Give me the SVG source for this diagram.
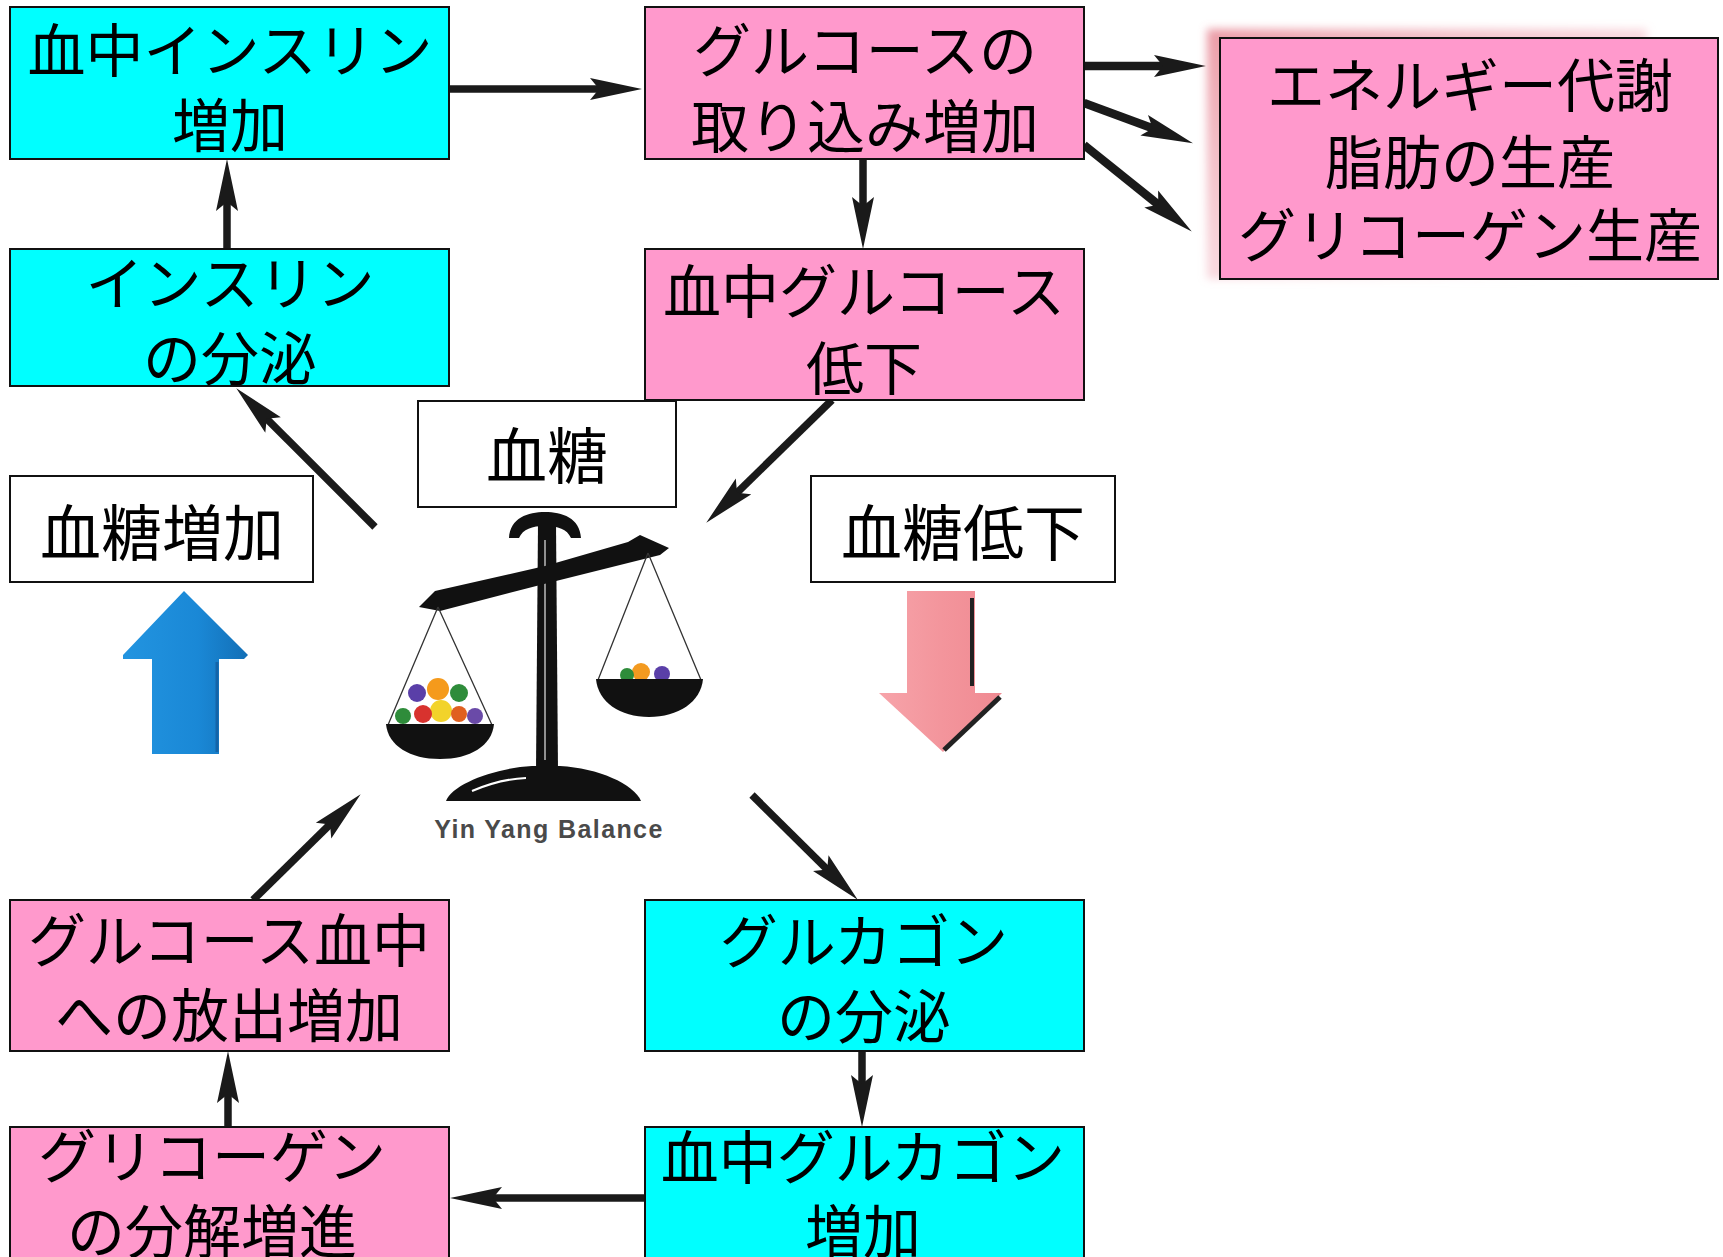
<svg xmlns="http://www.w3.org/2000/svg" width="1723" height="1257" viewBox="0 0 1723 1257">
  <style>
    .box { stroke: #111; stroke-width: 2; }
    .cyan { fill: #00ffff; }
    .pink { fill: #ff99cc; }
    .white { fill: #ffffff; }
    .t { font-family: "Noto Sans CJK JP", "Noto Sans CJK SC", sans-serif; font-size: 58px; text-anchor: middle; fill: #000; }
    .t60 { font-size: 61px; }
    .conn { stroke: #1a1a1a; stroke-width: 7.5; fill: none; marker-end: url(#ah); }
    .thick { stroke-width: 8.5; }
    .str { stroke: #333; stroke-width: 1.3; fill: none; }
  </style>
  <defs>
    <marker id="ah" viewBox="0 0 52 24" markerUnits="userSpaceOnUse" markerWidth="52" markerHeight="24" refX="11" refY="12" orient="auto">
      <path d="M0,1 L52,12 L0,23 L9,12 Z" fill="#1a1a1a"/>
    </marker>
    <filter id="soft" x="-10%" y="-10%" width="120%" height="120%">
      <feGaussianBlur stdDeviation="4"/>
    </filter>
    <linearGradient id="shade" x1="0" y1="0" x2="1" y2="1">
      <stop offset="0" stop-color="#e2707f" stop-opacity="0.7"/>
      <stop offset="0.6" stop-color="#f0a0b0" stop-opacity="0.3"/>
      <stop offset="1" stop-color="#ffffff" stop-opacity="0"/>
    </linearGradient>
    <linearGradient id="blueG" x1="0" y1="0" x2="1" y2="0">
      <stop offset="0" stop-color="#2294e0"/>
      <stop offset="0.6" stop-color="#1a88d6"/>
      <stop offset="1" stop-color="#136fb6"/>
    </linearGradient>
    <linearGradient id="pinkG" x1="0" y1="0" x2="1" y2="0">
      <stop offset="0" stop-color="#f7a4aa"/>
      <stop offset="0.5" stop-color="#f3959c"/>
      <stop offset="1" stop-color="#f08a92"/>
    </linearGradient>
  </defs>

  <rect width="1723" height="1257" fill="#ffffff"/>

  <!-- connectors -->
  <g id="connectors">
    <path class="conn" d="M449,89 L601,89"/>
    <path class="conn" d="M227,249 L227,200"/>
    <path class="conn thick" d="M1084,66 L1165,66"/>
    <path class="conn thick" d="M1084,103 L1154.5,129.1"/>
    <path class="conn thick" d="M1084,145 L1159.8,205.9"/>
    <path class="conn" d="M863,159 L863,208"/>
    <path class="conn" d="M832,400 L735.6,494.1"/>
    <path class="conn" d="M375,527 L265.3,417.3"/>
    <path class="conn" d="M253,900 L331.4,823"/>
    <path class="conn" d="M752,795 L828.6,870.9"/>
    <path class="conn" d="M862,1051 L862,1086"/>
    <path class="conn" d="M645,1198 L491,1198"/>
    <path class="conn" d="M228,1127 L228,1092"/>
  </g>

  <!-- insulin rise in blood -->
  <g id="insulin-rise">
    <rect class="box cyan" x="10" y="7" width="439" height="152"/>
    <text class="t" x="230" y="72">血中インスリン</text>
    <text class="t" x="230" y="147">増加</text>
  </g>

  <!-- insulin secretion -->
  <g id="insulin-secretion">
    <rect class="box cyan" x="10" y="249" width="439" height="137"/>
    <text class="t" x="230" y="305">インスリン</text>
    <text class="t" x="230" y="380">の分泌</text>
  </g>

  <!-- glucose uptake -->
  <g id="glucose-uptake">
    <rect class="box pink" x="645" y="7" width="439" height="152"/>
    <text class="t" x="865" y="72">グルコースの</text>
    <text class="t" x="865" y="148">取り込み増加</text>
  </g>

  <!-- blood glucose fall -->
  <g id="glucose-fall">
    <rect class="box pink" x="645" y="249" width="439" height="151"/>
    <text class="t" x="864" y="313">血中グルコース</text>
    <text class="t" x="864" y="390">低下</text>
  </g>

  <!-- metabolism outcomes -->
  <g id="metabolism">
    <rect x="1207" y="29" width="440" height="250" fill="url(#shade)" filter="url(#soft)"/>
    <rect class="box pink" x="1220" y="38" width="498" height="241"/>
    <text class="t" x="1470" y="107">エネルギー代謝</text>
    <text class="t" x="1470" y="184">脂肪の生産</text>
    <text class="t" x="1470" y="257">グリコーゲン生産</text>
  </g>

  <!-- blood sugar label -->
  <g id="blood-sugar">
    <rect class="box white" x="418" y="401" width="258" height="106"/>
    <text class="t t60" x="547" y="479">血糖</text>
  </g>

  <g id="sugar-rise">
    <rect class="box white" x="10" y="476" width="303" height="106"/>
    <text class="t t60" x="162" y="556">血糖増加</text>
  </g>

  <g id="sugar-fall">
    <rect class="box white" x="811" y="476" width="304" height="106"/>
    <text class="t t60" x="963" y="556">血糖低下</text>
  </g>

  <!-- big up arrow -->
  <g id="up-arrow">
    <path d="M184,591 L248,655 L244,659 L219,659 L219,754 L152,754 L152,659 L123,659 L123,655 Z" fill="url(#blueG)"/>
    <path d="M217,662 L217,752" stroke="#1464a8" stroke-width="3"/>
  </g>

  <!-- big down arrow -->
  <g id="down-arrow">
    <path d="M907,591 L975,591 L975,693 L1002,693 L943,752 L879,693 L907,693 Z" fill="url(#pinkG)"/>
    <path d="M972,598 L972,686" stroke="#222" stroke-width="4"/>
    <path d="M1000,697 L944,750" stroke="#222" stroke-width="5"/>
  </g>

  <!-- balance scale -->
  <g id="scale">
    <!-- top cap -->
    <path d="M509,538 C510,518 528,512 545,512 C562,512 580,518 581,538 L571,538 C567,529 558,526 545,526 C532,526 523,529 519,538 Z" fill="#111"/>
    <!-- pillar -->
    <path d="M538,524 L556,524 L558,770 L536,770 Z" fill="#111"/>
    <path d="M545,540 L545,760" stroke="#bbb" stroke-width="1.5"/>
    <!-- beam -->
    <path d="M419,607 L435,591 L545,566 L628,542 L640,535 L669,548 L660,555 L548,583 L440,611 Z" fill="#111"/>
    <!-- left pan -->
    <path class="str" d="M438,607 L388,725 M438,607 L492,725"/>
    <g id="left-balls">
      <circle cx="438" cy="689" r="11" fill="#f59a1c"/>
      <circle cx="441" cy="711" r="11" fill="#f2d32a"/>
      <circle cx="417" cy="693" r="9" fill="#5a3fa8"/>
      <circle cx="459" cy="693" r="9" fill="#2e8c3a"/>
      <circle cx="423" cy="714" r="9" fill="#d8322e"/>
      <circle cx="403" cy="716" r="8" fill="#2e8c3a"/>
      <circle cx="475" cy="716" r="8" fill="#6a4aa8"/>
      <circle cx="459" cy="714" r="8" fill="#e06020"/>
    </g>
    <path d="M386,724 L494,724 C492,746 470,759 440,759 C410,759 388,746 386,724 Z" fill="#111"/>
    <!-- right pan -->
    <path class="str" d="M648,553 L598,680 M648,553 L701,680"/>
    <g id="right-balls">
      <circle cx="641" cy="672" r="9" fill="#f39a20"/>
      <circle cx="627" cy="675" r="7" fill="#2e8c3a"/>
      <circle cx="662" cy="674" r="8" fill="#5a3fa8"/>
    </g>
    <path d="M596,679 L703,679 C701,702 678,717 649,717 C620,717 598,702 596,679 Z" fill="#111"/>
    <!-- base -->
    <path d="M446,801 C452,784 495,768 532,766 L560,766 C598,768 634,784 641,801 Z" fill="#111"/>
    <path d="M472,791 Q500,779 526,778" stroke="#fff" stroke-width="2" fill="none"/>
    <text x="549" y="838" font-family="Liberation Sans, Arial, sans-serif" font-weight="bold" font-size="25" letter-spacing="1.4" text-anchor="middle" fill="#4a4a4a">Yin Yang Balance</text>
  </g>

  <!-- glucose release -->
  <g id="glucose-release">
    <rect class="box pink" x="10" y="900" width="439" height="151"/>
    <text class="t" x="229" y="962">グルコース血中</text>
    <text class="t" x="229" y="1037">への放出増加</text>
  </g>

  <!-- glycogen breakdown -->
  <g id="glycogen-breakdown">
    <rect class="box pink" x="10" y="1127" width="439" height="131"/>
    <text class="t" x="212" y="1178">グリコーゲン</text>
    <text class="t" x="212" y="1253">の分解増進</text>
  </g>

  <!-- glucagon secretion -->
  <g id="glucagon-secretion">
    <rect class="box cyan" x="645" y="900" width="439" height="151"/>
    <text class="t" x="864" y="963">グルカゴン</text>
    <text class="t" x="864" y="1038">の分泌</text>
  </g>

  <!-- glucagon rise in blood -->
  <g id="glucagon-rise">
    <rect class="box cyan" x="645" y="1127" width="439" height="131"/>
    <text class="t" x="863" y="1179">血中グルカゴン</text>
    <text class="t" x="863" y="1253">増加</text>
  </g>
</svg>
